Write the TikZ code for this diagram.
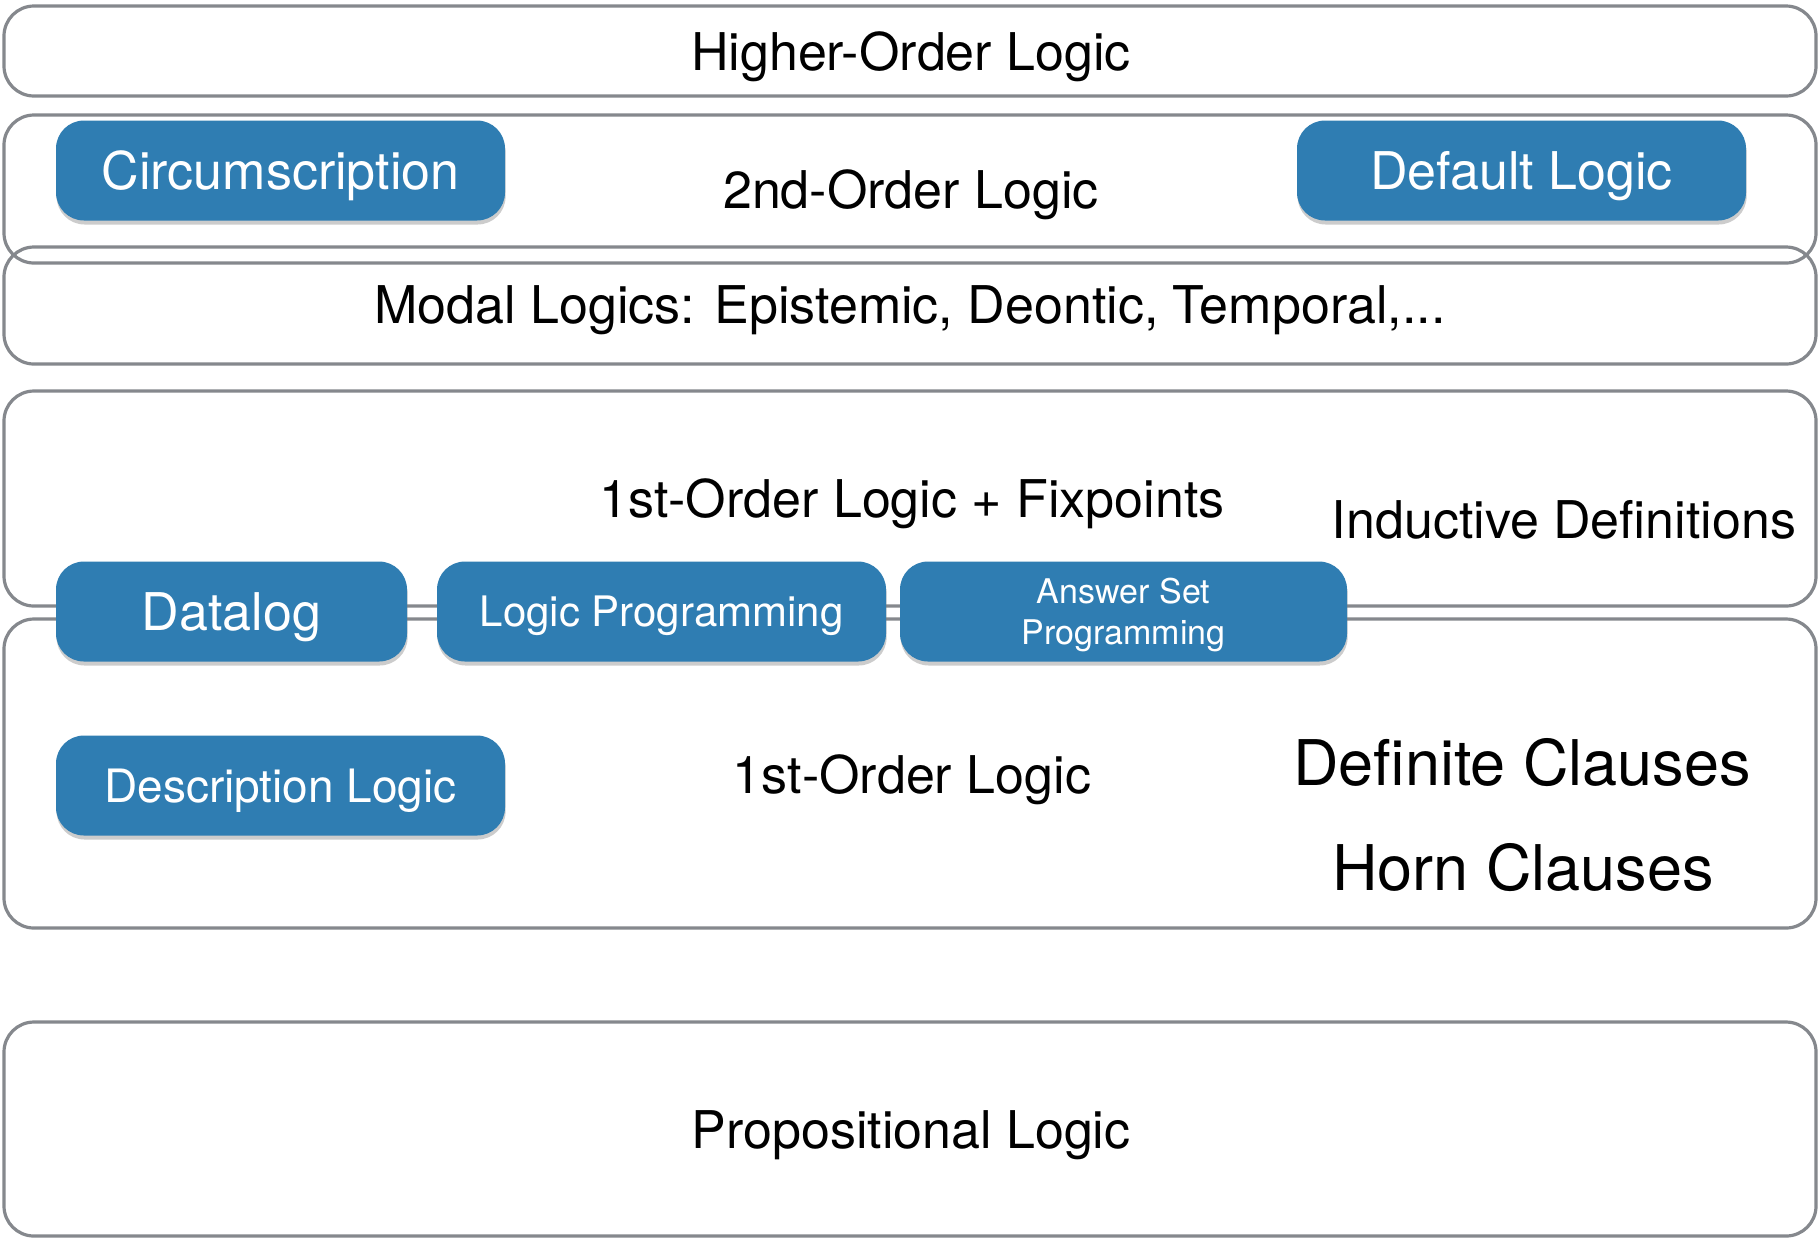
\documentclass[tikz,border=0pt]{standalone}
\usepackage{fontspec}
\setmainfont{TeX Gyre Heros}
\usetikzlibrary{shadows}
\definecolor{layergray}{RGB}{133,136,141}
\definecolor{bluefill}{RGB}{47,125,178}
\begin{document}
\begin{tikzpicture}[x=0.5pt,y=-0.5pt,
  layer/.style={draw=layergray, line width=1.6pt, rounded corners=15pt},
  lbl/.style={anchor=base, inner sep=0pt, font=\fontsize{26}{31}\selectfont},
  big/.style={anchor=base, inner sep=0pt, font=\fontsize{31.5}{38}\selectfont},
  pill/.style={fill=bluefill, rounded corners=14pt, text=white, inner sep=0pt,
    minimum height=50pt, text depth=0pt,
    drop shadow={shadow xshift=0.3pt, shadow yshift=-2pt, opacity=0.4}},
  pillA/.style={pill, font=\fontsize{26}{31}\selectfont, text height=18.7pt},
  pillB/.style={pill, font=\fontsize{21}{25}\selectfont, text height=15.1pt},
  pillC/.style={pill, font=\fontsize{23}{28}\selectfont, text height=16.5pt}]
\useasboundingbox[fill=white] (0,0) rectangle (1819,1239);

% layers
\draw[layer] (4,6) rectangle (1816,96);
\draw[layer] (4,115) rectangle (1816,263);
\draw[layer] (4,247) rectangle (1816,364);
\draw[layer] (4,391) rectangle (1816,606);
\draw[layer] (4,619) rectangle (1816,928);
\draw[layer] (4,1022) rectangle (1816,1236);

% layer labels
\node[lbl] (hol) at (911,70) {Higher-Order Logic};
\node[lbl] (sol) at (911,208) {2nd-Order Logic};
\node[lbl] (modal) at (910,323) {Modal Logics: Epistemic, Deontic, Temporal,...};
\node[lbl] (fofix) at (912,517) {1st-Order Logic + Fixpoints};
\node[lbl] (ind) at (1564,538) {Inductive Definitions};
\node[lbl] (fol) at (912,793) {1st-Order Logic};
\node[big] (defc) at (1522,785) {Definite Clauses};
\node[big] (horn) at (1523,890) {Horn Clauses};
\node[lbl] (prop) at (911,1148) {Propositional Logic};

% blue boxes
\node[pillA, minimum width=224.5pt] (circ) at (280.5,170.5) {Circumscription};
\node[pillA, minimum width=224.5pt] (deflog) at (1521.5,170.5) {Default Logic};
\node[pillA, minimum width=175.5pt] (datalog) at (231.5,611.5) {Datalog};
\node[pillB, minimum width=224.5pt] (lp) at (661.5,611.5) {Logic Programming};
\node[pill, minimum width=223.5pt, align=center, font=\fontsize{17}{20.5}\selectfont,
      text height=32.7pt, text depth=0pt] (asp) at (1123.5,611.5) {Answer Set\\Programming};
\node[pillC, minimum width=224.5pt] (dl) at (280.5,785.5) {Description Logic};
\end{tikzpicture}
\end{document}
